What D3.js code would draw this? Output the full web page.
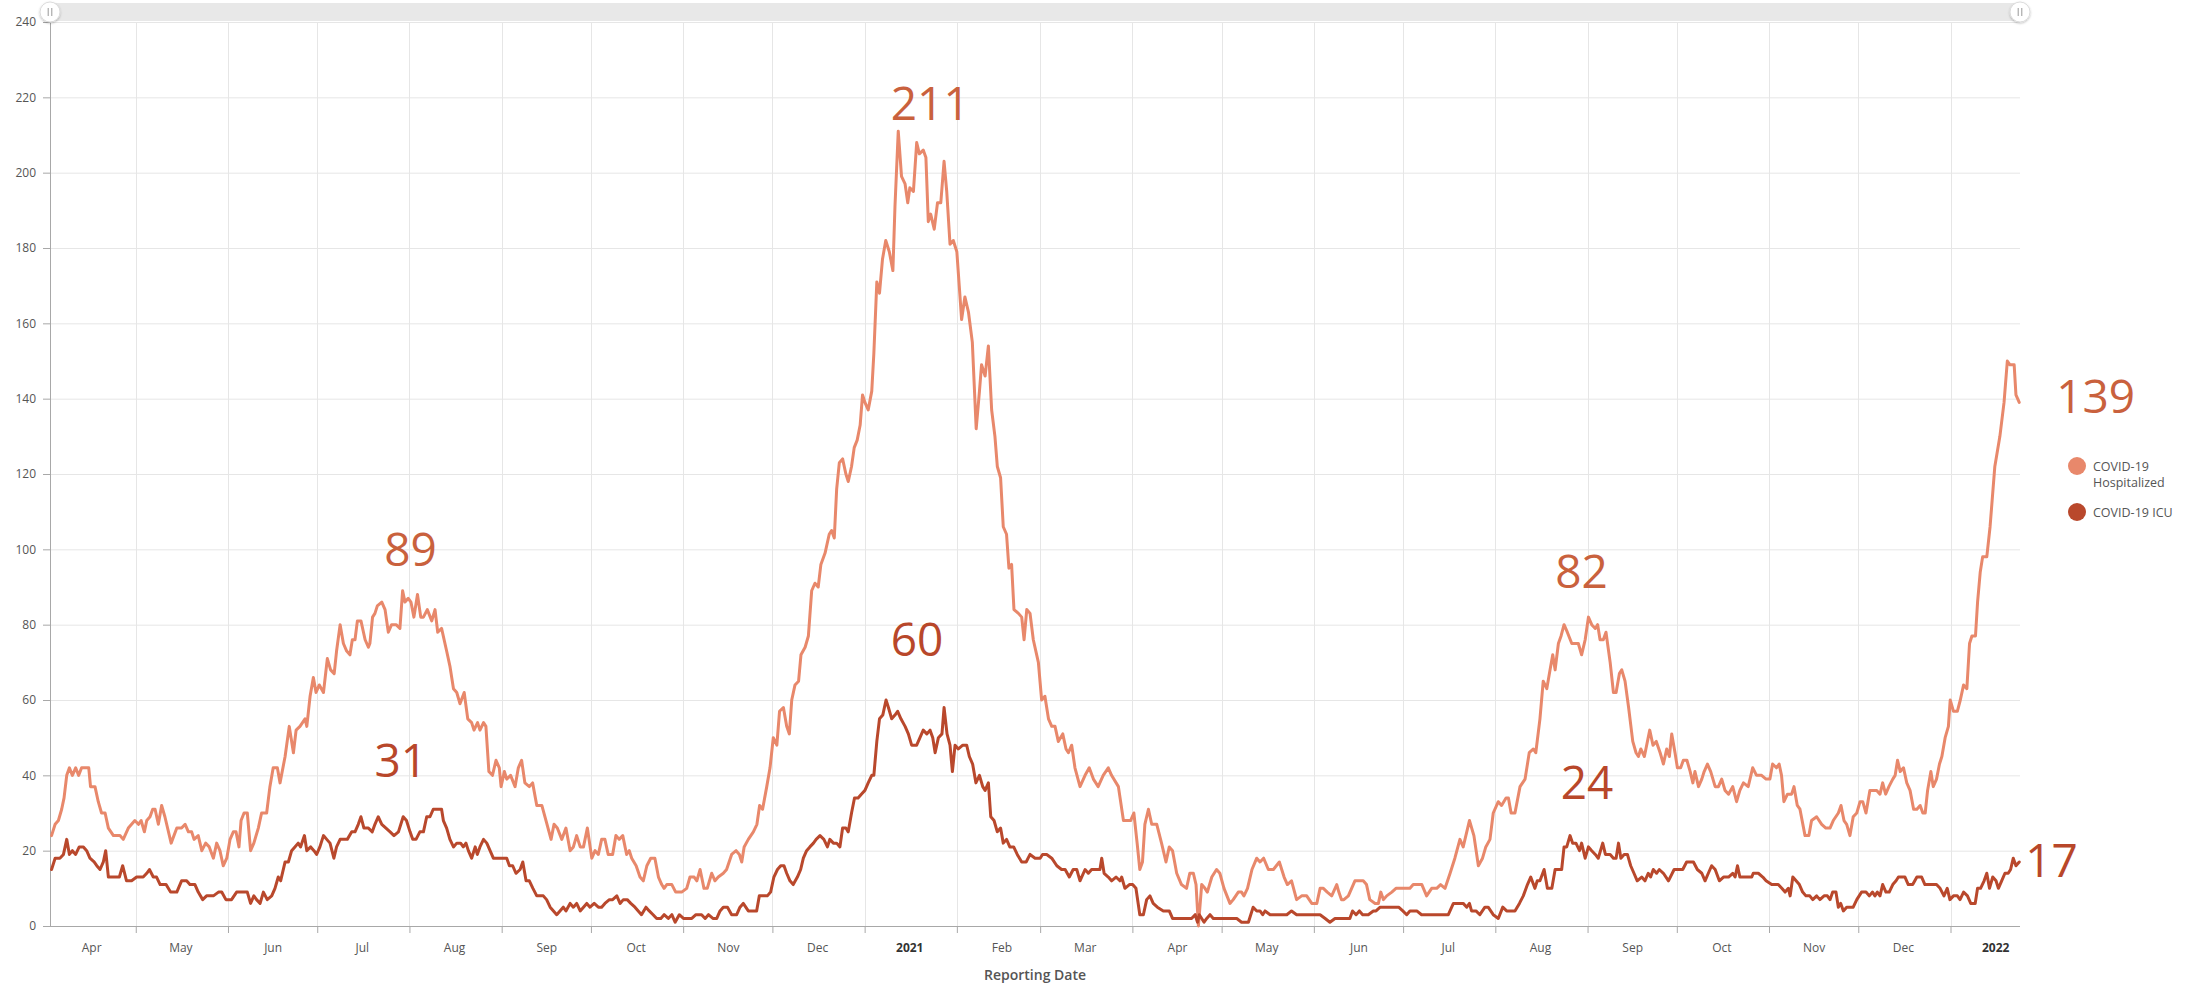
<!DOCTYPE html>
<html><head><meta charset="utf-8">
<script src="https://cdn.jsdelivr.net/npm/d3@7"></script>
<style>
html,body{margin:0;padding:0;background:#fff;}
svg{display:block;font-family:"Open Sans","Noto Sans",sans-serif;}
</style></head><body>
<svg id="chart" width="2198" height="985"></svg>
<script>
// ---------- DATA ----------
// day offset = days since 2020-04-01 (UTC), value = patients
const hospitalized = [[1.7,24],[2.9,27],[4,28],[5.1,31],[5.9,34],[6.8,40],[7.7,42],[8.7,40],[9.8,42],[10.8,40],[11.8,42],[14.2,42],[14.8,37],[16.3,37],[17.4,33],[18.5,30],[19.7,30],[20.8,26],[22.5,24],[24.7,24],[25.8,23],[27.5,26],[29.7,28],[30.9,27],[31.8,28],[32.9,25],[33.7,28],[34.8,29],[35.7,31],[36.5,31],[37.6,27],[38.7,32],[39.8,29],[41.9,22],[43.8,26],[45.4,26],[46.6,27],[47.7,25],[48.8,25],[49.6,23],[51,24],[52.2,20],[53.5,22],[54.7,21],[56.1,18],[57.2,22],[58.3,20],[59.4,16],[60.6,18],[61.7,23],[62.8,25],[63.7,25],[64.7,21],[65.4,28],[66.4,30],[67.5,30],[68.6,20],[69.7,22],[71.2,26],[72.3,30],[74,30],[75.1,37],[76.2,42],[77.6,42],[78.5,38],[80.2,45],[81.6,53],[83,46],[83.9,52],[85.2,53],[86.9,55],[87.5,53],[88.6,61],[89.7,66],[90.6,62],[91.7,64],[93.1,62],[94.4,71],[95.5,68],[96.7,67],[97.5,73],[98.7,80],[99.8,75],[100.9,73],[102,72],[102.8,76],[103.7,76],[104.5,81],[105.7,81],[107.1,76],[108.2,74],[108.7,75],[109.6,82],[110.4,83],[111.2,85],[112.7,86],[113.8,84],[114.9,78],[116,80],[117.5,80],[118.8,79],[119.7,89],[120.5,86],[121.6,87],[122.5,86],[123.5,82],[124.7,88],[125.8,82],[126.7,82],[128,84],[129.5,81],[130.6,84],[131.5,78],[132.8,79],[134.5,73],[135.6,69],[136.8,63],[137.9,62],[139,59],[140.4,62],[141.6,55],[142.9,54],[143.7,52],[144.9,54],[145.7,52],[146.9,54],[147.7,53],[148.7,41],[149.9,40],[151.1,44],[152.2,42],[152.8,37],[153.9,41],[154.7,39],[156,40],[157.5,37],[158.6,42],[159.7,44],[160.8,38],[162.3,37],[163.4,38],[164.8,32],[166.5,32],[167.9,28],[169.6,23],[170.6,27],[171.7,26],[173.2,23],[174.6,26],[176,20],[177.1,21],[178.2,24],[179.4,21],[180.5,21],[181.8,26],[183.3,18],[184.4,20],[185.5,19],[186.6,23],[187.7,23],[188.8,19],[190.3,19],[191.4,24],[192.5,23],[193.7,24],[195,19],[195.9,20],[196.7,18],[198.2,16],[199.5,13],[200.6,12],[201.8,16],[203.1,18],[204.5,18],[205.7,13],[206.8,11],[207.6,10],[208.5,11],[210.2,11],[211.5,9],[213.5,9],[215.2,10],[216.3,13],[217.7,13],[218.6,12],[219.7,15],[221,10],[222.1,10],[223.6,14],[224.7,12],[225.8,13],[227.5,14],[228.6,15],[230.3,19],[231.8,20],[232.9,19],[233.7,17],[234.5,21],[235.9,23],[237.6,25],[238.8,27],[239.7,32],[240.7,31],[242.1,37],[243.2,42],[244.3,50],[245.5,48],[246.4,57],[247.7,58],[248.8,53],[249.7,51],[250.5,60],[251.6,64],[252.8,65],[253.6,72],[255,74],[256.1,77],[257.2,89],[258.3,91],[259.4,90],[260.3,96],[261.7,99],[263.1,104],[263.9,105],[264.8,103],[265.6,116],[266.5,123],[267.6,124],[268.7,120],[269.5,118],[270.6,122],[271.5,127],[272.5,129],[273.5,133],[274.3,141],[275.1,139],[276.2,137],[277.4,142],[278.1,152],[279.1,171],[280,168],[281,177],[282.1,182],[283.3,179],[284.5,174],[285.2,191],[286.3,211],[287.4,199],[288.6,197],[289.5,192],[290.2,196],[291.4,195],[292.5,208],[293.4,205],[294.7,206],[295.6,204],[296.4,187],[297.2,189],[298.4,185],[299.5,192],[300.6,192],[301.7,203],[302.6,195],[303.7,181],[304.8,182],[306,179],[306.8,170],[307.6,161],[308.7,167],[309.9,163],[311.2,155],[312.5,132],[313.6,142],[314.3,149],[315.5,146],[316.6,154],[317.7,137],[318.8,130],[319.6,122],[320.7,119],[321.6,106],[322.7,104],[323.5,95],[324.4,96],[325.2,84],[326.7,83],[327.8,82],[328.6,76],[329.5,84],[330.6,83],[331.7,76],[333.4,70],[334.5,60],[335.6,61],[336.8,55],[337.9,53],[339,53],[340.1,49],[341.6,51],[342.7,47],[343.5,46],[344.6,48],[345.7,42],[347.4,37],[349.1,40],[350.5,42],[351.9,39],[353.5,37],[355.2,40],[356.9,42],[358,40],[360.3,37],[362,28],[363.3,28],[364.4,28],[365.5,30],[366.6,22],[367.5,15],[368.4,17],[369.2,27],[370.4,31],[371.5,27],[373.2,27],[374.8,22],[376.3,17],[377.4,21],[378.5,20],[379.9,14],[381.5,11],[383.2,10],[384.3,14],[385.5,14],[386.4,11],[387.2,0],[388.3,11],[389.4,10],[390.2,9],[391.7,13],[393.3,15],[394.4,14],[395.8,10],[397.8,6],[398.9,7],[400.6,9],[401.7,9],[402.5,8],[403.7,10],[405.2,15],[406.8,18],[407.9,17],[409.1,18],[410.7,15],[412.4,15],[414.4,17],[416,13],[417.1,11],[418.5,12],[420.2,7],[421.9,8],[423.6,8],[425.3,6],[427,6],[428.1,10],[429.2,10],[430.5,9],[432,8],[433.7,11],[434.4,9],[435.3,7],[436.1,7],[437.6,8],[438.7,10],[439.8,12],[442.6,12],[443.7,11],[444.8,7],[446.6,6],[447.7,6],[448.5,9],[449.4,7],[450.5,8],[452.2,9],[453.6,10],[455,10],[456.1,10],[457.2,10],[458.3,10],[459.4,11],[460.8,11],[462.3,11],[463.9,8],[465.6,10],[467.3,10],[468.6,11],[470.1,10],[471.8,14],[473.4,18],[475.1,23],[476.2,21],[478.3,28],[479.8,24],[481.3,16],[482.7,18],[483.8,21],[485.2,23],[486.3,30],[488,33],[489.1,32],[490.6,34],[491.4,34],[492.3,30],[493.6,30],[495.3,37],[497,39],[498.4,46],[499.8,47],[500.6,46],[502,55],[503.1,65],[504.3,63],[505.4,68],[506.3,72],[507.1,68],[508.2,75],[509.1,77],[510.1,80],[511.2,78],[512.7,75],[514.9,75],[516,72],[517.2,76],[518.3,82],[519.4,80],[520.6,79],[521.4,80],[522.2,76],[523.3,76],[524.2,78],[525.6,70],[526.7,62],[527.6,62],[528.7,67],[529.5,68],[530.6,65],[531.8,58],[533.2,49],[534.3,46],[535.1,45],[535.9,47],[537.1,45],[538.9,52],[540,48],[541.1,49],[542.4,46],[543.5,43],[544.6,47],[545.5,45],[546.3,51],[547.4,46],[548.2,42],[549.3,42],[550.2,44],[551.4,44],[552.5,41],[553.4,38],[554.1,41],[555.3,37],[556.4,39],[557.2,41],[558.3,43],[559.4,41],[560.9,37],[562,37],[563.1,39],[564.2,36],[565.4,35],[566.8,37],[568.1,33],[569.2,36],[570.4,38],[572,37],[573.5,42],[574.8,40],[576.5,40],[578,39],[579.3,39],[580.2,43],[581.5,42],[582.4,43],[583.2,40],[584,33],[585.2,35],[586.6,35],[587.4,37],[588.5,32],[589.4,31],[591.1,24],[592.4,24],[593.3,28],[595,29],[596.7,27],[598.1,26],[599.5,26],[600.6,28],[602.3,30],[603.2,32],[604.2,28],[605.1,27],[606.2,24],[607.3,29],[608.5,30],[609.6,33],[610.5,33],[611.6,30],[612.9,36],[614.1,36],[615.2,36],[616.3,35],[617.2,38],[618.2,35],[619.3,37],[620.6,39],[621.4,40],[622.2,44],[623.1,41],[624.2,42],[625.3,38],[626.4,36],[627.6,31],[628.7,31],[629.8,32],[630.7,30],[631.5,30],[632.3,36],[633.4,41],[634.2,37],[635.3,39],[636.3,43],[637.1,45],[638.2,50],[639.3,53],[639.9,60],[641,57],[642.3,57],[643.3,60],[644.4,64],[645.5,63],[646.4,75],[647.2,77],[648.4,77],[649.1,86],[650,94],[650.8,98],[652.2,98],[653.3,106],[654.9,122],[656.6,130],[658,139],[659.1,150],[660,149],[661.4,149],[662,141],[663.1,139]];

const icu = [[1.7,15],[2.9,18],[4.5,18],[5.7,19],[6.8,23],[7.7,19],[8.7,20],[9.8,19],[11,21],[12.4,21],[13.5,20],[14.6,18],[16,17],[16.9,16],[18,15],[19.1,17],[19.9,20],[20.8,13],[22.5,13],[24.5,13],[25.6,16],[26.9,12],[28.6,12],[30.3,13],[32.5,13],[33.7,14],[34.6,15],[35.9,13],[37,13],[38.2,11],[40.2,11],[41.7,9],[43.8,9],[45.4,12],[47.1,12],[48.2,11],[49.9,11],[51,9],[52.5,7],[53.8,8],[56.1,8],[57.8,9],[58.9,9],[60.3,7],[62.2,7],[63.9,9],[65.6,9],[67.5,9],[68.6,6],[69.7,8],[70.6,7],[71.8,6],[72.9,9],[74.2,7],[75.7,8],[76.8,10],[77.9,13],[78.7,12],[80.2,17],[81.3,17],[82.4,20],[83.5,21],[84.6,22],[85.4,21],[86.7,24],[87.5,20],[88.8,21],[89.9,20],[90.8,19],[91.9,21],[93.1,24],[94.2,23],[95.3,22],[96.6,18],[97.5,21],[98.7,23],[99.8,23],[101.1,23],[102.6,25],[103.7,25],[104.8,27],[105.7,29],[106.7,26],[108.2,26],[109.5,25],[110.4,27],[111.5,29],[112.7,27],[114.1,26],[115.5,25],[116.8,24],[118.3,25],[119.9,29],[121,28],[122.2,25],[123.1,23],[124.2,23],[125.5,25],[126.7,25],[127.8,29],[128.9,29],[130,31],[131.5,31],[132.8,31],[133.4,28],[134.5,26],[135.6,23],[136.8,21],[137.9,22],[139.2,22],[140.1,21],[141,22],[141.8,20],[142.9,18],[144.1,21],[144.8,19],[145.7,21],[146.9,23],[148,22],[149.1,20],[150.2,18],[151.3,18],[152.5,18],[153.6,18],[154.7,18],[155.6,16],[156.7,16],[157.8,14],[159.2,15],[160.1,17],[161.2,12],[162.3,12],[163.5,10],[164.8,8],[167,8],[168.1,7],[169.3,5],[170.4,4],[171.5,3],[172.6,4],[173.7,5],[174.6,4],[176,6],[177.1,5],[178.2,6],[179.4,4],[180.5,5],[181.6,6],[182.7,5],[184.1,6],[185.5,5],[186.6,5],[187.7,6],[189.2,7],[190.3,7],[191.7,8],[192.8,6],[193.9,7],[195.2,7],[196.4,6],[197.8,5],[198.9,4],[200,3],[201.5,5],[202.6,4],[203.9,3],[205.1,2],[206.5,2],[207.6,3],[209,2],[210.2,3],[211.3,1],[212.7,3],[214.1,2],[215.5,2],[216.9,2],[218.3,3],[220.2,3],[221.4,2],[222.5,3],[224,2],[225.3,2],[226.4,4],[227.5,5],[228.9,5],[230.3,3],[232,3],[233.1,5],[234.2,6],[235.9,4],[237,4],[238.7,4],[239.6,8],[240.7,8],[242.3,8],[243.4,9],[244.5,13],[245.7,15],[246.8,16],[247.9,16],[248.8,14],[249.9,12],[251,11],[252.4,13],[253.5,15],[254.4,18],[255.5,20],[256.6,21],[257.8,22],[258.7,23],[260,24],[261.3,23],[262.5,21],[263.3,23],[264.5,22],[265.6,22],[266.7,21],[267.6,26],[268.7,26],[269.5,25],[270.6,30],[271.6,34],[272.8,34],[273.9,35],[275.1,36],[276.2,38],[277.4,40],[278.1,40],[279.1,49],[280,55],[281.1,56],[282.2,60],[283,58],[284.1,55],[285.2,56],[286.1,57],[287.2,55],[288.6,53],[289.7,51],[290.8,48],[292.5,48],[293.6,50],[294.7,52],[295.9,51],[297,52],[297.9,50],[298.7,46],[299.8,50],[301,51],[301.7,58],[302.7,51],[303.7,48],[304.5,41],[305.4,48],[306.5,47],[308,48],[309.3,48],[310.2,45],[311.3,43],[312.4,38],[313.6,40],[314.7,37],[315.5,36],[316.6,38],[317.4,29],[318.5,28],[319.6,25],[320.7,26],[321.6,22],[322.7,23],[323.8,21],[325.1,21],[326.3,19],[327.8,17],[329.3,17],[330.6,19],[332.3,18],[334,18],[334.8,19],[336.2,19],[337.9,18],[339.6,16],[341.2,15],[342.4,15],[343.8,13],[345.1,15],[346.3,15],[347.4,12],[349.1,15],[350.2,14],[351.3,15],[353,15],[354.1,15],[354.7,18],[355.5,14],[356.9,13],[358,12],[359.5,13],[360.8,12],[361.4,13],[362.5,10],[364,11],[365.1,11],[366.2,10],[367.5,3],[368.7,3],[369.8,7],[370.9,8],[372,6],[373.4,5],[375.4,4],[376.5,4],[377.4,4],[378.5,2],[380.5,2],[383.2,2],[384.9,2],[386.1,3],[386.9,1],[387.5,3],[388.3,2],[389.1,1],[390,2],[391.1,3],[392.2,2],[394.5,2],[396.7,2],[400.1,2],[401.7,1],[404,1],[405.6,5],[406.8,4],[407.9,4],[408.8,3],[409.6,4],[411.3,3],[413,3],[414.6,3],[416.9,3],[418.5,4],[420.2,3],[422.5,3],[423.6,3],[426.4,3],[428.1,3],[429.8,2],[431.4,1],[433.1,2],[435.4,2],[438.1,2],[439,4],[440.2,3],[441.3,4],[442.4,3],[444.3,3],[446,4],[446.9,4],[448.3,5],[450.5,5],[452.8,5],[454.5,5],[455.9,4],[457.2,3],[458.3,4],[460.6,4],[462.2,3],[465,3],[468.4,3],[471.2,3],[472.9,6],[474.6,6],[476.2,6],[477.4,5],[478.3,6],[479,4],[480.5,4],[481.8,3],[483.5,5],[484.6,5],[486.3,3],[488,2],[489.5,5],[490.8,4],[493.6,4],[495.1,6],[496.4,8],[497.8,11],[498.9,13],[500.3,10],[501.1,12],[502,12],[503.4,15],[504.5,10],[506,10],[507.1,15],[508.5,15],[509.3,15],[510.1,21],[511,21],[512.1,24],[513,22],[514.1,22],[515.3,20],[516,22],[517.2,18],[518.3,21],[519.4,20],[520.6,19],[521.6,18],[523.1,22],[524,19],[525.6,19],[526.7,18],[527.6,18],[528.4,22],[529.2,18],[530.3,19],[531.4,19],[532.5,16],[533.6,14],[534.7,12],[536.2,13],[537.3,12],[538.4,14],[539.2,13],[540.1,15],[541.2,14],[542.1,15],[543.5,14],[545.2,12],[547.1,15],[548.5,15],[550,15],[551.3,17],[553.6,17],[554.9,15],[556.4,14],[557.5,12],[558.6,14],[559.7,16],[560.9,15],[562.3,12],[563.7,13],[565.4,13],[566.8,14],[567.6,13],[568.4,16],[569.2,13],[571.5,13],[573.2,13],[573.7,14],[575.4,14],[576.9,13],[578,12],[579.9,11],[582.1,11],[583.3,10],[584.4,9],[585.5,10],[586.1,8],[587,13],[588.1,12],[589.2,11],[590.3,9],[591.4,8],[592.7,8],[593.7,7],[595,8],[596.1,7],[597.5,8],[598.6,8],[599.5,7],[600.4,9],[601.5,9],[602.3,5],[603.1,6],[604,4],[605.1,5],[607.3,5],[608.5,7],[610.1,9],[611.6,9],[612.7,8],[613.8,9],[614.6,8],[615.4,9],[616.3,8],[617.2,11],[618.3,9],[619.4,9],[620.6,11],[621.7,12],[622.5,13],[623.6,13],[624.7,13],[625.8,11],[627.3,11],[628.7,13],[630.3,13],[631.4,11],[633.7,11],[635.3,11],[636.5,10],[637.8,8],[638.9,10],[639.8,7],[641,8],[642.3,8],[643.2,7],[644.4,9],[645.7,8],[646.8,6],[648.3,6],[649.1,10],[650.1,10],[651.3,12],[652.2,14],[653.1,10],[654.2,13],[655.3,12],[656.1,10],[657.2,12],[658.3,14],[659.4,14],[660.2,15],[661.1,18],[662,16],[663.1,17]];

const seriesNames = ["COVID-19 Hospitalized", "COVID-19 ICU"];
const yTicks = [0,20,40,60,80,100,120,140,160,180,200,220,240];
const xTickLabels = ["Apr","May","Jun","Jul","Aug","Sep","Oct","Nov","Dec","2021","Feb","Mar","Apr","May","Jun","Jul","Aug","Sep","Oct","Nov","Dec","2022"];
const xAxisTitle = "Reporting Date";
// days (offset) of the annotated points, per series
const hospAnnotDays = [119.7, 286.3, 518.3, 663.1];
const icuAnnotDays = [131.5, 282.2, 512.1, 663.1];

// ---------- STYLE / LAYOUT ----------
const W = 2198, H = 985;
const plot = {left: 50, right: 2020, top: 22, bottom: 926};
const hospColor = "#e8886b", icuColor = "#b9482c";
const hospLabelColor = "#c9613d", icuLabelColor = "#b8472a";
const hospAnnotOffsets = [[8,-25,"middle"],[32,-11,"middle"],[-7,-29,"middle"],[37,11,"start"]];
const icuAnnotOffsets = [[-37,-32,"middle"],[31,-44,"middle"],[17,-37,"middle"],[6,15,"start"]];

const dayMs = 86400000;
const BASE = Date.UTC(2020, 3, 1);
const toDate = d => new Date(BASE + d * dayMs);

const x = d3.scaleUtc()
  .domain([new Date(Date.UTC(2020,3,1)), new Date(Date.UTC(2022,0,1))])
  .range([46.5, 1950.5]);
const y = d3.scaleLinear().domain([0, 240]).range([plot.bottom, plot.top]);

const svg = d3.select("#chart");
svg.append("rect").attr("width", W).attr("height", H).attr("fill", "#fff");

// month boundaries & mid-month label positions
const monthStarts = d3.utcMonth.range(new Date(Date.UTC(2020,4,1)), new Date(Date.UTC(2022,0,2)));
const labelDates = d3.utcMonth.range(new Date(Date.UTC(2020,3,1)), new Date(Date.UTC(2022,0,2)))
  .map(m => new Date(m.getTime() + 15 * dayMs));

// grid
const grid = svg.append("g");
grid.selectAll("line.h").data(yTicks.filter(t => t > 0)).join("line")
  .attr("x1", plot.left).attr("x2", plot.right)
  .attr("y1", d => y(d) + 0.5).attr("y2", d => y(d) + 0.5)
  .attr("stroke", "#e6e6e6").attr("stroke-width", 1);
grid.selectAll("line.v").data(monthStarts).join("line")
  .attr("x1", d => Math.round(x(d)) + 0.5).attr("x2", d => Math.round(x(d)) + 0.5)
  .attr("y1", plot.top).attr("y2", plot.bottom)
  .attr("stroke", "#e6e6e6").attr("stroke-width", 1);

// y axis
const yAxis = svg.append("g").attr("transform", `translate(${plot.left},0)`)
  .call(d3.axisLeft(y).tickValues(yTicks).tickSize(7).tickPadding(7).tickSizeOuter(0));
yAxis.select(".domain").attr("stroke", "#a8a8a8");
yAxis.selectAll(".tick line").attr("stroke", "#a8a8a8");
yAxis.selectAll(".tick text").attr("fill", "#555").style("font-size", "12px")
  .style("font-family", '"Open Sans","Noto Sans",sans-serif');

// x axis: ticks at month starts
const xAxis = svg.append("g").attr("transform", `translate(0,${plot.bottom})`)
  .call(d3.axisBottom(x).tickValues(monthStarts).tickSize(7).tickFormat(() => "").tickSizeOuter(0));
xAxis.select(".domain").attr("d", `M${plot.left},0.5H${plot.right}`).attr("stroke", "#a8a8a8");
xAxis.selectAll(".tick line").attr("stroke", "#a8a8a8");

// x labels at mid-month
const xLab = svg.append("g").attr("transform", `translate(0,${plot.bottom})`)
  .call(d3.axisBottom(x).tickValues(labelDates).tickSize(0).tickPadding(17)
    .tickFormat((d, i) => xTickLabels[i]));
xLab.select(".domain").remove();
xLab.selectAll(".tick text")
  .style("font-size", "12px")
  .style("font-family", '"Open Sans","Noto Sans",sans-serif')
  .attr("fill", (d, i) => /^\d+$/.test(xTickLabels[i]) ? "#333" : "#555")
  .style("font-weight", (d, i) => /^\d+$/.test(xTickLabels[i]) ? "700" : "400");

svg.append("text").text(xAxisTitle)
  .attr("x", (plot.left + plot.right) / 2).attr("y", 980)
  .attr("text-anchor", "middle").attr("fill", "#555")
  .style("font-size", "14px").style("font-weight", "600");

// lines
const line = d3.line().x(d => x(toDate(d[0]))).y(d => y(d[1]));
svg.append("path").datum(hospitalized).attr("d", line)
  .attr("fill", "none").attr("stroke", hospColor).attr("stroke-width", 3)
  .attr("stroke-linejoin", "round").attr("stroke-linecap", "round");
svg.append("path").datum(icu).attr("d", line)
  .attr("fill", "none").attr("stroke", icuColor).attr("stroke-width", 3)
  .attr("stroke-linejoin", "round").attr("stroke-linecap", "round");

// annotations
function annotate(series, days, offsets, color) {
  days.forEach((day, i) => {
    const pt = series.find(p => p[0] === day);
    const [dx, dy, anchor] = offsets[i];
    svg.append("text").text(pt[1])
      .attr("x", x(toDate(pt[0])) + dx).attr("y", y(pt[1]) + dy)
      .attr("text-anchor", anchor).attr("fill", color)
      .style("font-size", "46px").style("font-weight", "400");
  });
}
annotate(hospitalized, hospAnnotDays, hospAnnotOffsets, hospLabelColor);
annotate(icu, icuAnnotDays, icuAnnotOffsets, icuLabelColor);

// legend
const lg = svg.append("g").attr("transform", "translate(2077,0)");
lg.append("circle").attr("cx", 0).attr("cy", 466).attr("r", 9).attr("fill", hospColor);
lg.append("circle").attr("cx", 0).attr("cy", 512).attr("r", 9).attr("fill", icuColor);
const lt = lg.append("text").attr("fill", "#555").style("font-size", "12.5px");
lt.append("tspan").attr("x", 16).attr("y", 471).text(seriesNames[0].split(" ")[0]);
lt.append("tspan").attr("x", 16).attr("y", 487).text(seriesNames[0].split(" ").slice(1).join(" "));
lg.append("text").attr("x", 16).attr("y", 517).attr("fill", "#555")
  .style("font-size", "12.5px").text(seriesNames[1]);

// scrollbar (decoration)
const sb = svg.append("g");
const defs = svg.append("defs");
const f = defs.append("filter").attr("id", "sh").attr("x", "-50%").attr("y", "-50%").attr("width", "200%").attr("height", "200%");
f.append("feDropShadow").attr("dx", 0).attr("dy", 1).attr("stdDeviation", 1.2).attr("flood-color", "#000").attr("flood-opacity", 0.25);
sb.append("rect").attr("x", plot.left).attr("y", 3).attr("width", plot.right - plot.left).attr("height", 18)
  .attr("fill", "#e8e8e8");
[plot.left, plot.right].forEach(cx => {
  const g = sb.append("g").attr("transform", `translate(${cx},12)`);
  g.append("circle").attr("r", 10).attr("fill", "#fff").attr("stroke", "#dcdcdc").attr("filter", "url(#sh)");
  g.append("line").attr("x1", -1.8).attr("x2", -1.8).attr("y1", -4).attr("y2", 4).attr("stroke", "#999").attr("stroke-width", 1);
  g.append("line").attr("x1", 1.8).attr("x2", 1.8).attr("y1", -4).attr("y2", 4).attr("stroke", "#999").attr("stroke-width", 1);
});
</script>
</body></html>
